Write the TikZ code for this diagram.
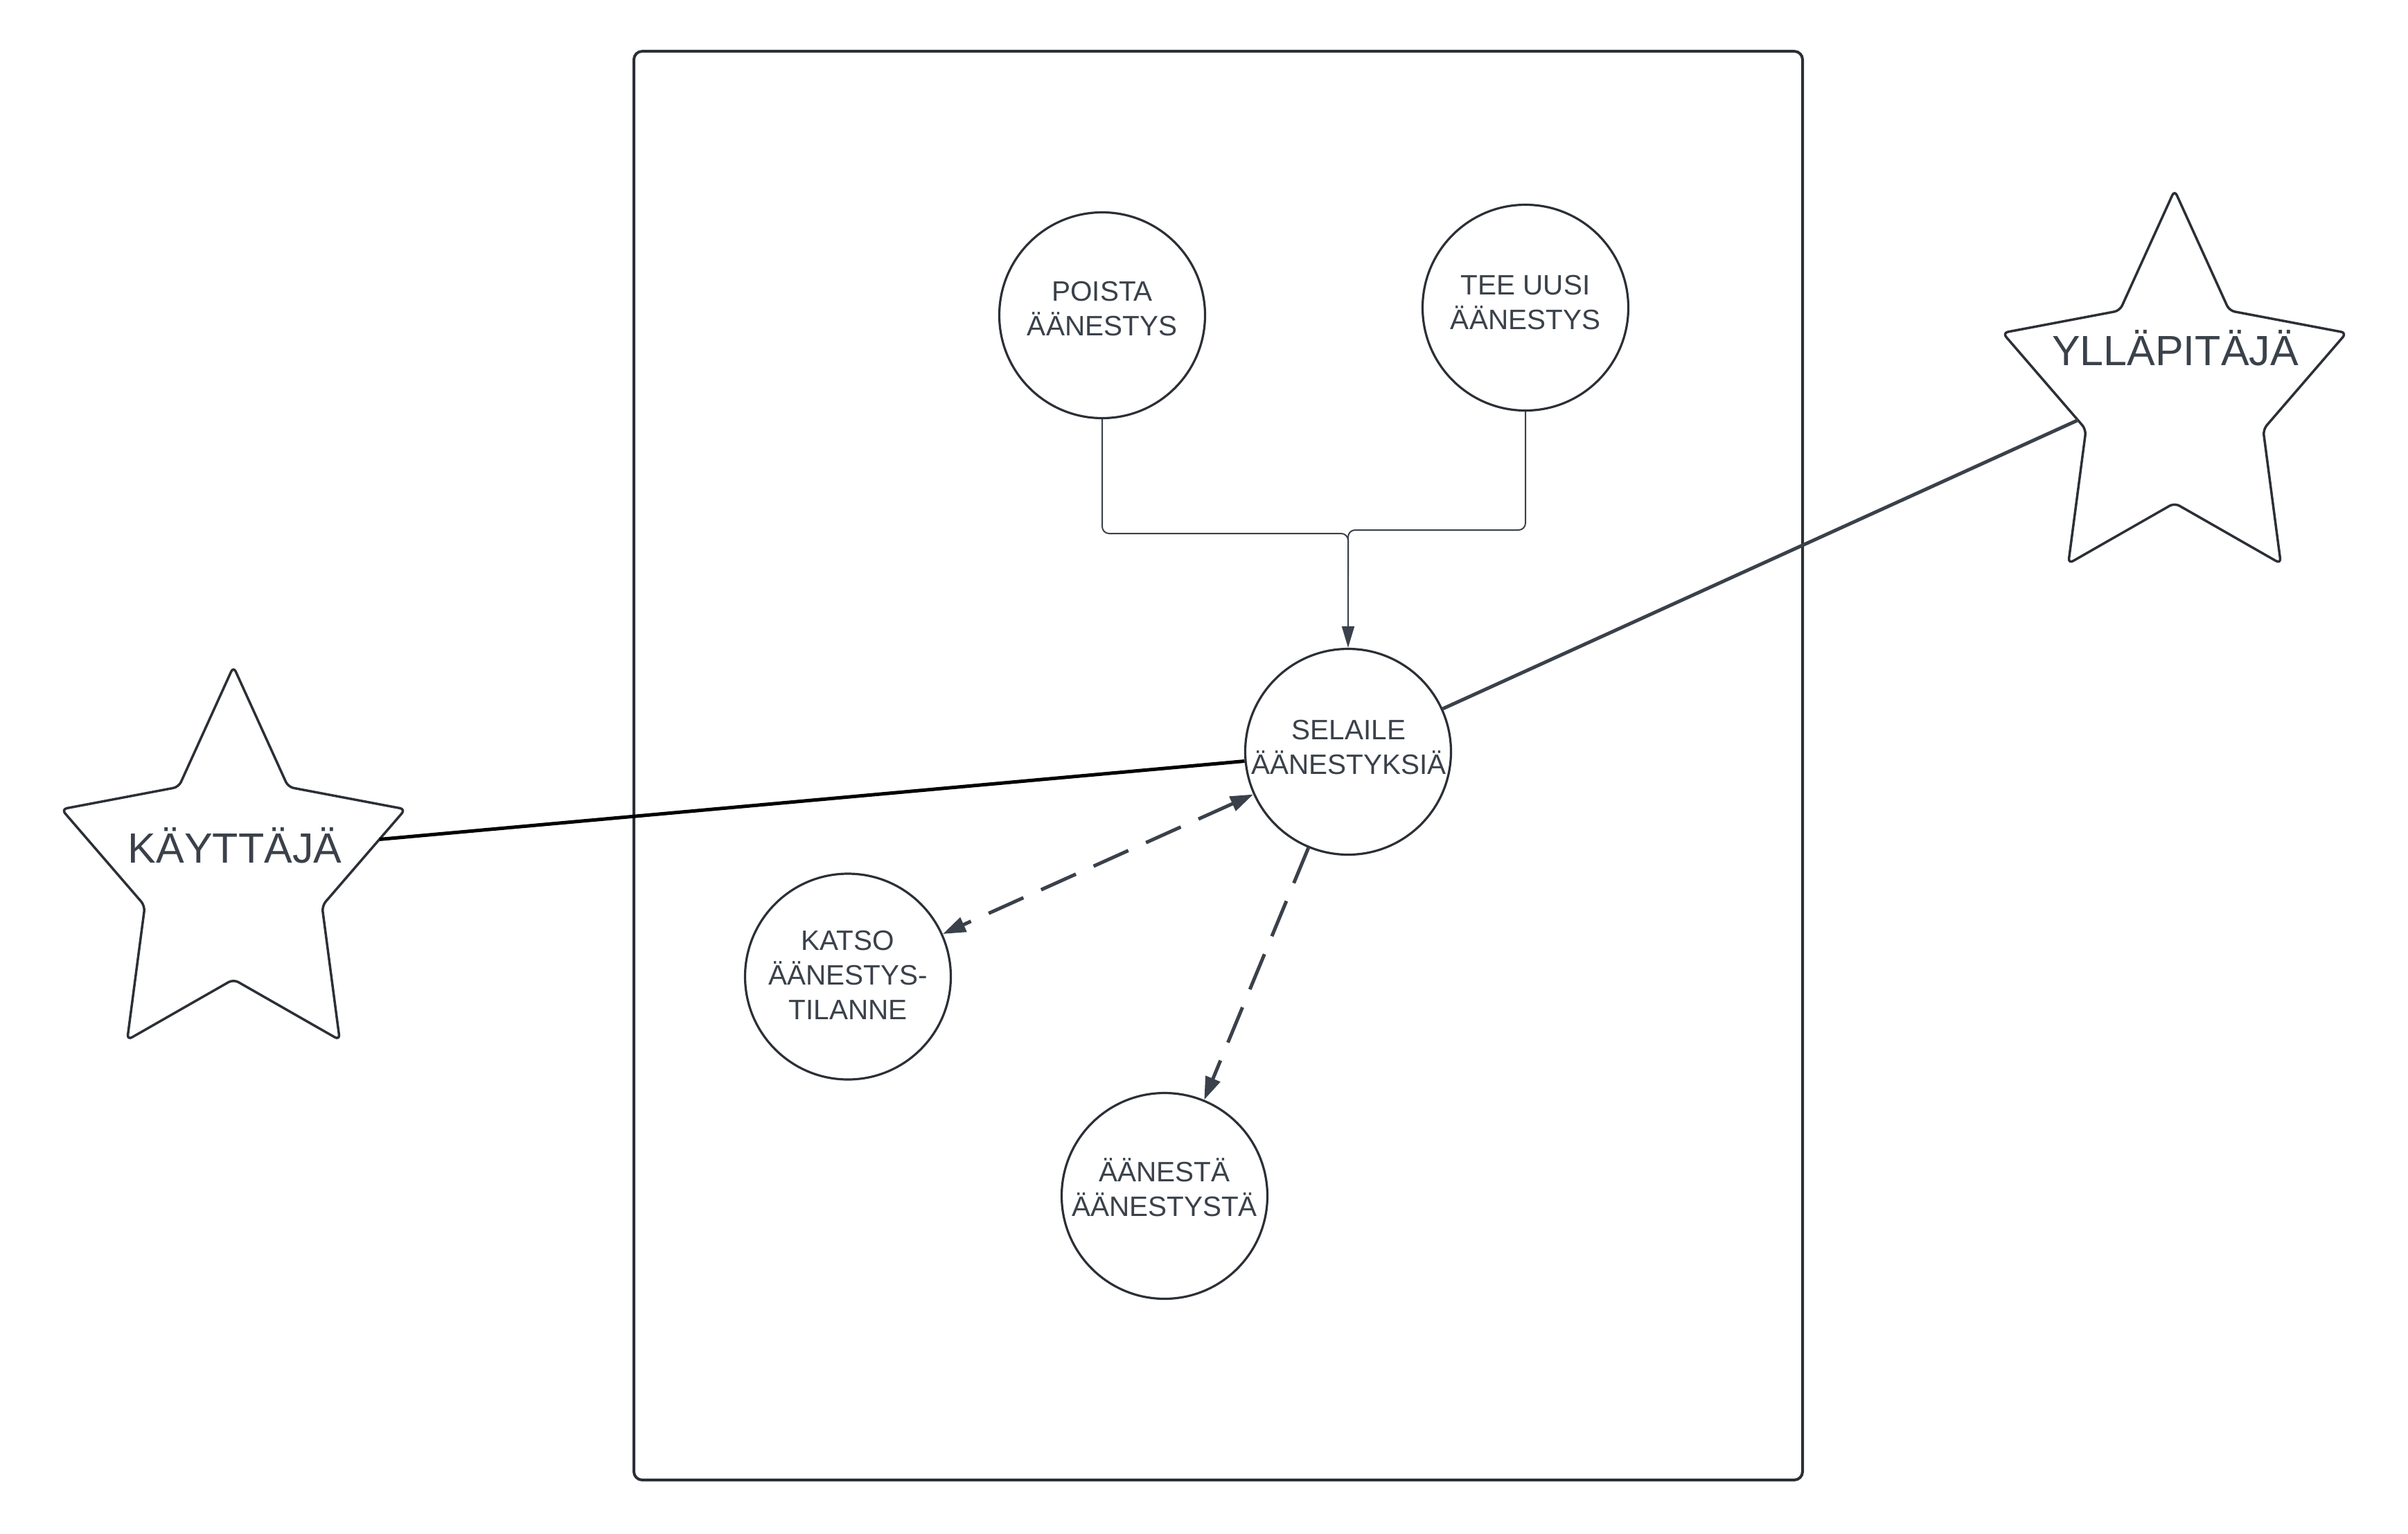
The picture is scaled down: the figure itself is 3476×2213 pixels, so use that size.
\documentclass[tikz,border=0pt]{standalone}
\usepackage{fontspec}
\setmainfont{Liberation Sans}
\usetikzlibrary{arrows.meta,intersections}

\definecolor{ink}{HTML}{3A414A}
\definecolor{edge}{HTML}{2B2F36}

\tikzset{
  usecase/.style={circle, draw=edge, line width=3.2pt, minimum size=297pt, inner sep=0pt, fill=white},
  uctext/.style={text=ink, font=\fontsize{40.5pt}{50pt}\selectfont, align=center, inner sep=0pt},
  actortext/.style={text=ink, font=\fontsize{61pt}{70pt}\selectfont, inner sep=0pt, anchor=base},
  starline/.style={draw=edge, line width=3.5pt, rounded corners=8pt, fill=white},
  frame/.style={draw=edge, line width=4pt, rounded corners=12pt},
  thinflow/.style={draw=ink, line width=2pt, rounded corners=10pt},
  dashflow/.style={draw=ink, line width=5pt, dash pattern=on 55pt off 28pt},
  headtip/.style={-{Triangle[length=33pt,width=22pt]}},
  bothtips/.style={{Triangle[length=33pt,width=22pt]}-{Triangle[length=33pt,width=22pt]}},
  smalltip/.style={-{Triangle[length=31pt,width=18pt]}},
  actorlink/.style={line width=5pt}
}

% five-pointed actor star: centre x, centre y, path name
\newcommand\actorstar[3]{%
  \path[starline, name path=#3]
    ({#1+261*cos(90)},{#2-298*sin(90)})
    \foreach \a/\r in {126/0.515,162/1,198/0.515,234/1,270/0.515,306/1,342/0.515,18/1,54/0.515}
      { -- ({#1+261*\r*cos(\a)},{#2-298*\r*sin(\a)}) } -- cycle;}

\begin{document}
\begin{tikzpicture}[x=1pt,y=-1pt]
  \fill[white] (0,0) rectangle (3476,2213);
  \useasboundingbox (0,0) rectangle (3476,2213);

  % system boundary
  \draw[frame] (915,74) rectangle (2602,2136);

  % actors
  \actorstar{337}{1260}{kaystar}
  \actorstar{3139}{572.5}{yllstar}
  \node[actortext] (kay-t) at (339,1245) {KÄYTTÄJÄ};
  \node[actortext] (yll-t) at (3140,527) {YLLÄPITÄJÄ};
  \coordinate (kay-c) at (337,1230.5);
  \coordinate (yll-c) at (3139,543);

  % use cases
  \node[usecase] (poista) at (1591,455) {};
  \node[usecase] (tee) at (2202,444) {};
  \node[usecase] (sel) at (1946,1085) {};
  \node[usecase] (katso) at (1224,1409.5) {};
  \node[usecase] (aanesta) at (1681,1726) {};

  \node[uctext] (poista-t) at (1591,446) {POISTA\\ÄÄNESTYS};
  \node[uctext] (tee-t) at (2202,436.5) {TEE UUSI\\ÄÄNESTYS};
  \node[uctext] (sel-t) at (1947,1079) {SELAILE\\ÄÄNESTYKSIÄ};
  \node[uctext] (katso-t) at (1224,1407) {KATSO\\ÄÄNESTYS-\\TILANNE};
  \node[uctext] (aanesta-t) at (1681,1714) {ÄÄNESTÄ\\ÄÄNESTYSTÄ};

  % admin flows merging into the browse use case
  \coordinate (jl) at (1946,770);
  \coordinate (jr) at (1946,765);
  \coordinate (jm) at (1946,830);
  \draw[thinflow] (tee.south) |- (jr) -- (jm);
  \draw[thinflow, smalltip] (poista.south) |- (jl) -- (sel.north);

  % dashed relations
  \draw[dashflow, bothtips] (sel) -- (katso);
  \draw[dashflow, headtip] (sel) -- (aanesta);

  % actor associations
  \path[name path=kayray] (kay-c) -- (sel.center);
  \path[name intersections={of=kaystar and kayray, by=kay-e}];
  \path[name path=yllray] (yll-c) -- (sel.center);
  \path[name intersections={of=yllstar and yllray, by=yll-e}];
  \draw[actorlink, black] (kay-e) -- (sel);
  \draw[actorlink, ink] (yll-e) -- (sel);
\end{tikzpicture}
\end{document}
